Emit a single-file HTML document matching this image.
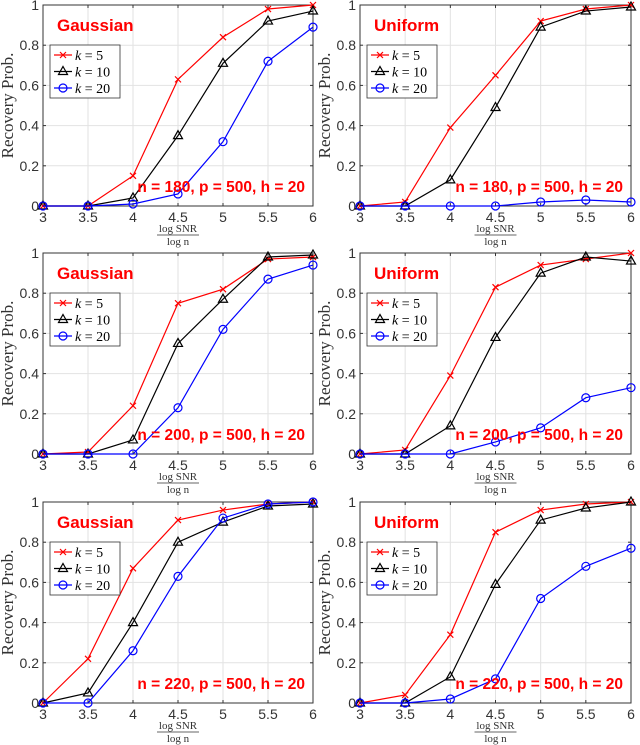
<!DOCTYPE html>
<html><head><meta charset="utf-8"><style>
html,body{margin:0;padding:0;background:#fff;}
svg{display:block;}
</style></head><body>
<svg id="fig" width="640" height="745" xmlns="http://www.w3.org/2000/svg"></svg>
<script>
const xCats=[3,3.5,4,4.5,5,5.5,6];
const xTickLabels=["3","3.5","4","4.5","5","5.5","6"];
const yTicks=[0,0.2,0.4,0.6,0.8,1];
const yTickLabels=["0","0.2","0.4","0.6","0.8","1"];
const titles=["Gaussian","Uniform","Gaussian","Uniform","Gaussian","Uniform"];
const notes=["n = 180, p = 500, h = 20","n = 180, p = 500, h = 20","n = 200, p = 500, h = 20","n = 200, p = 500, h = 20","n = 220, p = 500, h = 20","n = 220, p = 500, h = 20"];
const k5=[[0,0,.15,.63,.84,.98,1],[0,.02,.39,.65,.92,.98,1],[0,.01,.24,.75,.82,.97,.98],[0,.02,.39,.83,.94,.97,1],[0,.22,.67,.91,.96,.99,1],[0,.04,.34,.85,.96,.99,1]];
const k10=[[0,0,.04,.35,.71,.92,.97],[0,0,.13,.49,.89,.97,.99],[0,0,.07,.55,.77,.98,.99],[0,0,.14,.58,.90,.98,.96],[0,.05,.40,.80,.90,.98,.99],[0,0,.13,.59,.91,.97,1]];
const k20=[[0,0,.01,.06,.32,.72,.89],[0,0,0,0,.02,.03,.02],[0,0,0,.23,.62,.87,.94],[0,0,0,.06,.13,.28,.33],[0,0,.26,.63,.92,.99,1],[0,0,.02,.12,.52,.68,.77]];
const labels=["k = 5","k = 10","k = 20"];

const NS="http://www.w3.org/2000/svg";
const svg=document.getElementById('fig');
function mk(tag,attrs,parent){const e=document.createElementNS(NS,tag);for(const k in attrs)e.setAttribute(k,attrs[k]);(parent||svg).appendChild(e);return e;}
const cols=[[43,313],[360,631]];
const rows=[[5,206],[253,454],[502,703]];
for(let p=0;p<6;p++){
  const [x0,x1]=cols[p%2],[y0,y1]=rows[Math.floor(p/2)];
  const xs=v=>x0+(v-3)/3*(x1-x0);
  const ys=v=>y1-v*(y1-y0);
  const g=mk('g',{});
  
  
  mk('rect',{x:x0,y:y0,width:x1-x0,height:y1-y0,fill:'#fff'},g);
  xCats.forEach((v,i)=>{
    mk('line',{x1:xs(v),x2:xs(v),y1:y0,y2:y1,stroke:'#e2e2e2','stroke-width':1},g);
    mk('line',{x1:xs(v),x2:xs(v),y1:y1,y2:y1-3,stroke:'#333'},g);
    mk('line',{x1:xs(v),x2:xs(v),y1:y0,y2:y0+3,stroke:'#333'},g);
    const t=mk('text',{x:xs(v),y:y1+16,'text-anchor':'middle','font-family':'Liberation Sans, sans-serif','font-size':14,fill:'#333'},g);
    t.textContent=xTickLabels[i];
    
    
  });
  yTicks.forEach((v,i)=>{
    mk('line',{x1:x0,x2:x1,y1:ys(v),y2:ys(v),stroke:'#e2e2e2','stroke-width':1},g);
    mk('line',{x1:x0,x2:x0+3,y1:ys(v),y2:ys(v),stroke:'#333'},g);
    mk('line',{x1:x1,x2:x1-3,y1:ys(v),y2:ys(v),stroke:'#333'},g);
    const t=mk('text',{x:x0-4,y:ys(v)+5,'text-anchor':'end','font-family':'Liberation Sans, sans-serif','font-size':14,fill:'#333'},g);
    t.textContent=yTickLabels[i];
    
    
  });
  mk('rect',{x:x0,y:y0,width:x1-x0,height:y1-y0,fill:'none',stroke:'#333','stroke-width':1},g);
  const yl=mk('text',{x:0,y:0,transform:`translate(${x0-30},${(y0+y1)/2}) rotate(-90)`,'text-anchor':'middle','font-family':'Liberation Serif, serif','font-size':17,fill:'#333'},g);
  yl.textContent='Recovery Prob.';
  
  
  const xm=(x0+x1)/2;
  const xn=mk('text',{x:xm,y:y1+26,'text-anchor':'middle','font-family':'Liberation Serif, serif','font-size':11,fill:'#333'},g);
  xn.textContent='log SNR';
  
  
  mk('line',{x1:xm-21,x2:xm+21,y1:y1+29,y2:y1+29,stroke:'#333','stroke-width':0.8},g);
  const xd=mk('text',{x:xm,y:y1+39,'text-anchor':'middle','font-family':'Liberation Serif, serif','font-size':11,fill:'#333'},g);
  xd.textContent='log n';
  
  
  const series=[[k5[p],'#ff0000','x'],[k10[p],'#000000','tri'],[k20[p],'#0000ff','o']];
  series.forEach(([vals,col,m],si)=>{
    const pts=vals.map((v,i)=>xs(xCats[i])+','+ys(v)).join(' ');
    const pl=mk('polyline',{points:pts,fill:'none',stroke:col,'stroke-width':1.2},g);
    
    
    vals.forEach((v,i)=>drawMarker(g,m,xs(xCats[i]),ys(v),col));
  });
  const tt=mk('text',{x:x0+14,y:y0+26,'font-family':'Liberation Sans, sans-serif','font-size':17,'font-weight':'bold',fill:'#ff0000'},g);
  tt.textContent=titles[p];
  
  
  const nt=mk('text',{x:x1-8,y:y1-14,'text-anchor':'end','font-family':'Liberation Sans, sans-serif','font-size':15.5,'font-weight':'bold',fill:'#ff0000'},g);
  nt.textContent=notes[p];
  
  
  const lg=mk('g',{},g);
  
  
  const lx=x0+7,ly=y0+40;
  mk('rect',{x:lx,y:ly,width:70,height:53,fill:'#fff',stroke:'#333','stroke-width':0.8},lg);
  series.forEach(([v,col,m],si)=>{
    const yy=ly+10+si*16.5;
    mk('line',{x1:lx+4,x2:lx+22,y1:yy,y2:yy,stroke:col,'stroke-width':1.2},lg);
    drawMarker(lg,m,lx+13,yy,col);
    const t=mk('text',{x:lx+25,y:yy+5,'font-family':'Liberation Serif, serif','font-size':14,fill:'#000'},lg);
    t.innerHTML='<tspan font-style="italic">k</tspan> = '+labels[si].split('= ')[1];
    
    
  });
}
function drawMarker(g,m,x,y,col){
  if(m==='x'){mk('path',{d:`M${x-3},${y-3}L${x+3},${y+3}M${x-3},${y+3}L${x+3},${y-3}`,stroke:col,'stroke-width':1.2},g);}
  else if(m==='tri'){mk('path',{d:`M${x},${y-5}L${x+4.5},${y+3}L${x-4.5},${y+3}Z`,fill:'none',stroke:col,'stroke-width':1.2},g);}
  else {mk('circle',{cx:x,cy:y,r:4,fill:'none',stroke:col,'stroke-width':1.2},g);}
}
</script>
</body></html>
